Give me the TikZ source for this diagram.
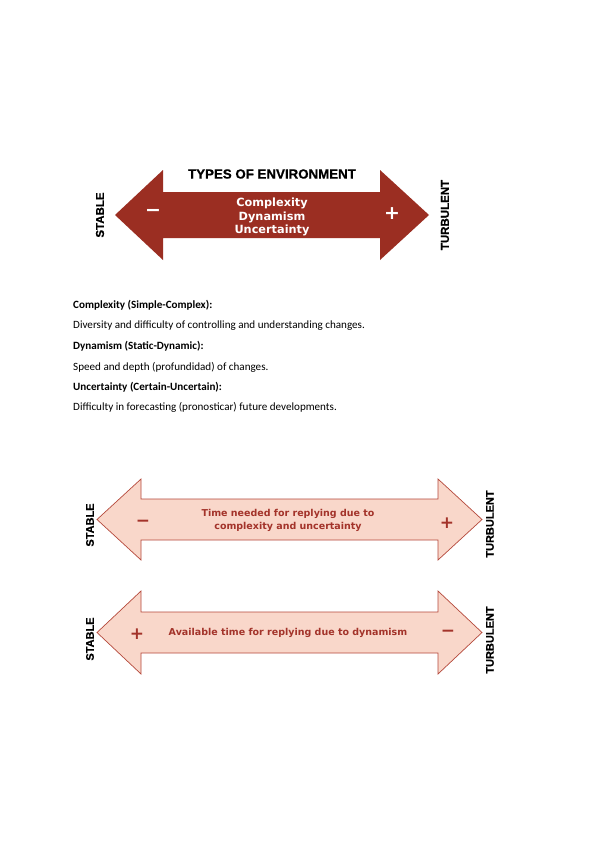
\documentclass[tikz,border=0pt]{standalone}
\usepackage{fontspec}
\setmainfont{Carlito}
\newfontfamily\arialb{Liberation Sans Bold}[FakeBold=0.6]
\newfontfamily\verdb{DejaVu Sans Bold}
\definecolor{darkarrow}{HTML}{9B2E22}
\definecolor{pinkfill}{HTML}{F9D7CA}
\definecolor{pinkline}{HTML}{B5493C}
\definecolor{pinktext}{HTML}{A3332A}
\tikzset{
  txt/.style={inner sep=0pt, anchor=center},
  sidelabel/.style={txt, rotate=90, font=\arialb\fontsize{11}{12}\selectfont},
  para/.style={inner sep=0pt, anchor=west, font=\fontsize{11.1}{12}\selectfont},
  bigarrow/.style={fill=darkarrow},
  lightarrow/.style={fill=pinkfill, draw=pinkline, line width=0.7pt, line join=miter},
  whitetxt/.style={txt, text=white, font=\verdb\fontsize{11.3}{13.5}\selectfont, align=center},
  pinktxt/.style={txt, text=pinktext, font=\verdb\fontsize{9.5}{13}\selectfont, align=center},
  signw/.style={txt, text=white, font=\verdb\fontsize{19}{19}\selectfont},
  signp/.style={txt, text=pinktext, font=\verdb\fontsize{17}{17}\selectfont},
}
% #1 left tip x, #2 left base x, #3 right base x, #4 right tip x, #5 center y, #6 half shaft, #7 half head
\newcommand\dblarrowshape[8]{%
  \path[#8] (#1,#5) -- (#2,#5-#7) -- (#2,#5-#6) -- (#3,#5-#6) -- (#3,#5-#7) -- (#4,#5)
    -- (#3,#5+#7) -- (#3,#5+#6) -- (#2,#5+#6) -- (#2,#5+#7) -- cycle;}
\begin{document}
\begin{tikzpicture}[x=1pt,y=-1pt]
\useasboundingbox[fill=white] (0,0) rectangle (599,848);

% ---- top arrow
\dblarrowshape{115}{163}{380}{429}{215}{23}{45}{bigarrow}
\node[txt, font=\arialb\fontsize{13.3}{13}\selectfont] (title) at (272,174) {TYPES OF ENVIRONMENT};
\node[whitetxt] (main) at (272,217) {Complexity\\Dynamism\\Uncertainty};
\node[signw] (m1) at (153,213) {−};
\node[signw] (p1) at (392,214) {+};
\node[sidelabel, font=\arialb\fontsize{11.5}{12}\selectfont] (s1) at (100,215) {STABLE};
\node[sidelabel, font=\arialb\fontsize{11.5}{12}\selectfont] (t1) at (445,215) {TURBULENT};

% ---- paragraphs
\node[para] (c1) at (73,305) {\textbf{Complexity (Simple-Complex):}};
\node[para] (c2) at (73,326) {Diversity and difficulty of controlling and understanding changes.};
\node[para] (d1) at (73,346) {\textbf{Dynamism (Static-Dynamic):}};
\node[para] (d2) at (73,367) {Speed and depth (profundidad) of changes.};
\node[para] (u1) at (73,387) {\textbf{Uncertainty (Certain-Uncertain):}};
\node[para] (u2) at (73,407) {Difficulty in forecasting (pronosticar) future developments.};

% ---- second arrow
\dblarrowshape{97}{141}{438}{482}{519.5}{20.5}{40.5}{lightarrow}
\node[pinktxt] (a2) at (288,520.5) {Time needed for replying due to\\complexity and uncertainty};
\node[signp] (m2) at (143,523) {−};
\node[signp] (p2) at (447,523) {+};
\node[sidelabel] (s2) at (90,525) {STABLE};
\node[sidelabel] (t2) at (490,524) {TURBULENT};

% ---- third arrow
\dblarrowshape{97}{141}{438}{482}{632.5}{20.5}{41.5}{lightarrow}
\node[pinktxt] (a3) at (288,633) {Available time for replying due to dynamism};
\node[signp] (p3) at (137,634) {+};
\node[signp] (m3) at (448,633) {−};
\node[sidelabel] (s3) at (90,639) {STABLE};
\node[sidelabel] (t3) at (490,640) {TURBULENT};
\end{tikzpicture}
\end{document}
